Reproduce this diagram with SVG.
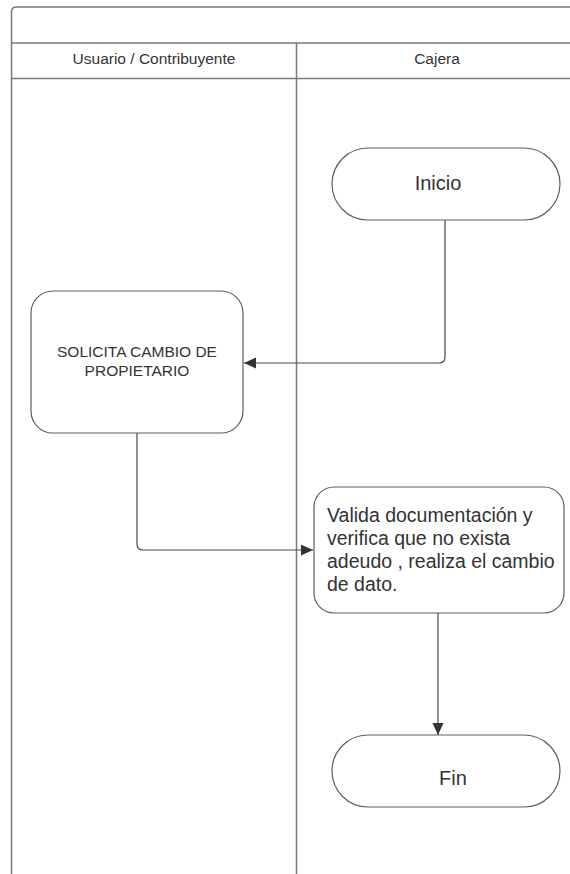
<svg xmlns="http://www.w3.org/2000/svg" width="570" height="874" viewBox="0 0 570 874">
<style>
  .lane { fill: none; stroke: #7a7a7a; stroke-width: 1.5; }
  .shape { fill: #ffffff; stroke: #5e5e5e; stroke-width: 1.2; }
  .conn { fill: none; stroke: #4a4a4a; stroke-width: 1.2; }
  .hdr { font-family: "Liberation Sans", Arial, sans-serif; font-size: 15.5px; fill: #333333; text-anchor: middle; }
  .lbl { font-family: "Liberation Sans", Arial, sans-serif; fill: #333333; }
</style>
<defs>
  <marker id="arrow" markerUnits="userSpaceOnUse" markerWidth="14" markerHeight="12" refX="12" refY="5.5" orient="auto">
    <path d="M0,0 L12,5.5 L0,11 Z" fill="#333333"/>
  </marker>
</defs>
<rect width="570" height="874" fill="#ffffff"/>
<g id="pool">
  <path class="lane" d="M11.5,874 V12 Q11.5,7 16.5,7 H570"/>
  <line class="lane" x1="11.5" y1="43" x2="570" y2="43"/>
  <line class="lane" x1="11.5" y1="78.5" x2="570" y2="78.5"/>
  <line class="lane" x1="296.5" y1="43" x2="296.5" y2="874"/>
  <text class="hdr" x="154" y="64">Usuario / Contribuyente</text>
  <text class="hdr" x="437" y="64">Cajera</text>
</g>
<g id="connectors">
  <path class="conn" d="M445,220 V357 Q445,363 439,363 H244" marker-end="url(#arrow)"/>
  <path class="conn" d="M137,433 V544 Q137,550 143,550 H313" marker-end="url(#arrow)"/>
  <path class="conn" d="M438,613 V735" marker-end="url(#arrow)"/>
</g>
<g id="inicio">
  <rect class="shape" x="332" y="148" width="228" height="72" rx="36" ry="36"/>
  <text class="lbl" x="438" y="190" font-size="20" text-anchor="middle">Inicio</text>
</g>
<g id="solicita">
  <rect class="shape" x="31" y="291" width="212" height="142" rx="22" ry="22"/>
  <text class="lbl" x="137" y="357" font-size="15.5" text-anchor="middle">SOLICITA CAMBIO DE</text>
  <text class="lbl" x="137" y="376" font-size="15.5" text-anchor="middle">PROPIETARIO</text>
</g>
<g id="valida">
  <rect class="shape" x="314" y="487" width="250" height="126" rx="20" ry="20"/>
  <text class="lbl" font-size="19.5">
    <tspan x="327" y="522">Valida documentación y</tspan>
    <tspan x="327" y="545">verifica que no exista</tspan>
    <tspan x="327" y="568">adeudo , realiza el cambio</tspan>
    <tspan x="327" y="591">de dato.</tspan>
  </text>
</g>
<g id="fin">
  <rect class="shape" x="332" y="735" width="228" height="72" rx="36" ry="36"/>
  <text class="lbl" x="453" y="785" font-size="20" text-anchor="middle">Fin</text>
</g>
</svg>
